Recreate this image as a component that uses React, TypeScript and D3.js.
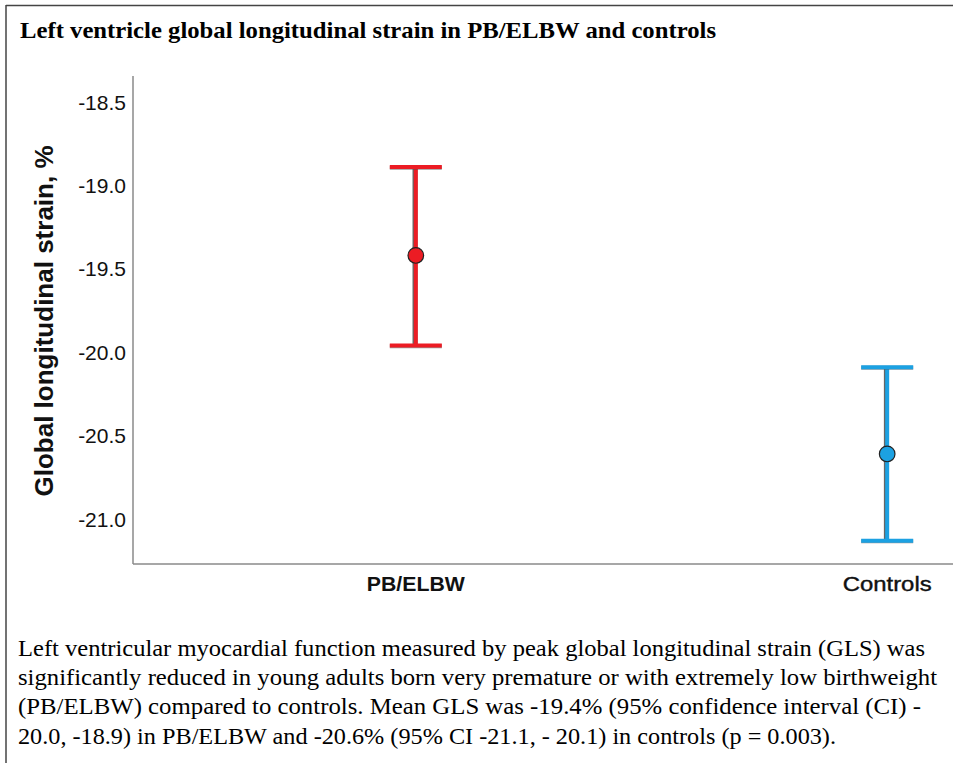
import { useEffect } from "react";
import * as d3 from "d3";

const groups = ["PB/ELBW", "Controls"];
const means = [-19.42, -20.61];
const ciLower = [-19.96, -21.13];
const ciUpper = [-18.89, -20.09];
const colors = ["#EC1C24", "#1CA1E2"];
const yTicks = [-18.5, -19.0, -19.5, -20.0, -20.5, -21.0];

const title = "Left ventricle global longitudinal strain in PB/ELBW and controls";
const yTitle = "Global longitudinal strain, %";
const caption = [
  "Left ventricular myocardial function measured by peak global longitudinal strain (GLS) was",
  "significantly reduced in young adults born very premature or with extremely low birthweight",
  "(PB/ELBW) compared to controls. Mean GLS was -19.4% (95% confidence interval (CI) -",
  "20.0, -18.9) in PB/ELBW and -20.6% (95% CI -21.1, - 20.1) in controls (p = 0.003).",
];
const captionWidths = [907, 919, 903, 818];
const groupLabelWidths = [98, 89];

export default function App() {
  useEffect(() => {
    document.body.style.margin = "0";
  }, []);

  const width = 953;
  const height = 763;
  const axisLeft = 133;
  const axisTop = 76;
  const axisBottom = 564;

  const y = d3.scaleLinear().domain([-18.5, -21.0]).range([102, 519]);
  const x = d3.scalePoint<string>().domain(groups).range([axisLeft, 1170]).padding(0.6);

  const capHalf = 26;
  const serif = "'Liberation Serif', 'Times New Roman', serif";
  const sans = "'Liberation Sans', Arial, sans-serif";

  return (
    <svg width={width} height={height} style={{ display: "block" }}>
      <rect width={width} height={height} fill="#fff" />
      {/* frame: only top and left edges are in the crop */}
      <line x1={6} x2={width} y1={5.5} y2={5.5} stroke="#444" strokeWidth={1.5} />
      <line x1={6} x2={6} y1={5} y2={height} stroke="#444" strokeWidth={1.5} />

      <text
        x={20}
        y={37.5}
        fontFamily={serif}
        fontWeight="bold"
        fontSize={22.5}
        fill="#000"
        textLength={696}
        lengthAdjust="spacingAndGlyphs"
      >
        {title}
      </text>

      {/* axes */}
      <line x1={axisLeft} x2={axisLeft} y1={axisTop} y2={axisBottom} stroke="#8a8a8a" strokeWidth={1.5} />
      <line x1={axisLeft} x2={width} y1={axisBottom} y2={axisBottom} stroke="#8a8a8a" strokeWidth={1.5} />

      {yTicks.map((t) => (
        <text
          key={t}
          x={126}
          y={y(t)}
          dy="0.36em"
          textAnchor="end"
          fontFamily={sans}
          fontSize={21}
          fill="#111"
        >
          {t.toFixed(1)}
        </text>
      ))}

      <text
        transform={`translate(53,${321}) rotate(-90)`}
        textAnchor="middle"
        fontFamily={sans}
        fontWeight="bold"
        fontSize={26}
        fill="#111"
      >
        {yTitle}
      </text>

      {groups.map((g, i) => (
        <text
          key={g}
          x={x(g)! - groupLabelWidths[i] / 2}
          y={591}
          fontFamily={sans}
          fontWeight={i === 0 ? "bold" : "normal"}
          stroke={i === 0 ? "none" : "#111"}
          strokeWidth={0.4}
          fontSize={21}
          fill="#111"
          textLength={groupLabelWidths[i]}
          lengthAdjust="spacingAndGlyphs"
        >
          {g}
        </text>
      ))}

      {/* 95% CI error bars with mean markers */}
      {groups.map((g, i) => {
        const cx = x(g)!;
        const c = colors[i];
        const yt = y(ciUpper[i]);
        const yb = y(ciLower[i]);
        const ym = y(means[i]);
        return (
          <g key={g}>
            <line x1={cx - 0.8} x2={cx - 0.8} y1={yt} y2={yb} stroke="#333" strokeWidth={5} opacity={0.75} />
            <line x1={cx} x2={cx} y1={yt} y2={yb} stroke={c} strokeWidth={4} />
            <line x1={cx - capHalf} x2={cx + capHalf} y1={yt + 0.6} y2={yt + 0.6} stroke="#555" strokeWidth={4} opacity={0.6} />
            <line x1={cx - capHalf} x2={cx + capHalf} y1={yt} y2={yt} stroke={c} strokeWidth={4} />
            <line x1={cx - capHalf} x2={cx + capHalf} y1={yb + 0.6} y2={yb + 0.6} stroke="#555" strokeWidth={4} opacity={0.6} />
            <line x1={cx - capHalf} x2={cx + capHalf} y1={yb} y2={yb} stroke={c} strokeWidth={4} />
            <circle cx={cx} cy={ym} r={7.8} fill={c} stroke="#222" strokeWidth={1.2} />
          </g>
        );
      })}

      {caption.map((line, i) => (
        <text
          key={i}
          x={18}
          y={656 + i * 29.2}
          fontFamily={serif}
          fontSize={22.5}
          fill="#000"
          textLength={captionWidths[i]}
          lengthAdjust="spacingAndGlyphs"
        >
          {line}
        </text>
      ))}
    </svg>
  );
}
